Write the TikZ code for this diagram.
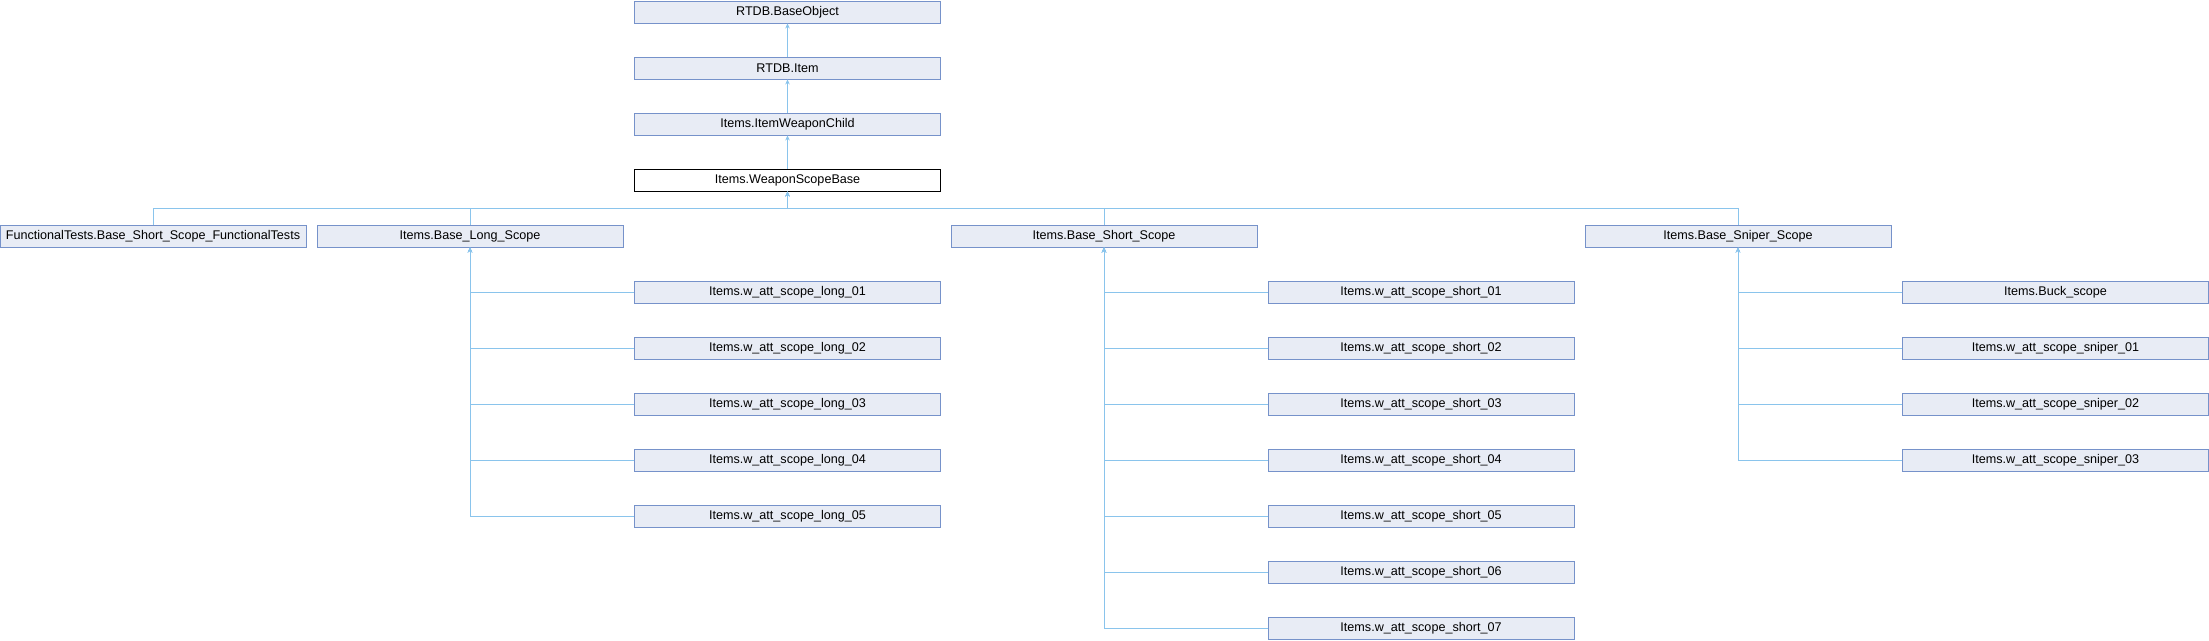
\documentclass[tikz,border=0pt]{standalone}
\usepackage{fontspec}
\setmainfont{Liberation Sans}
\usetikzlibrary{arrows.meta}

\definecolor{boxfill}{RGB}{232,236,245}
\definecolor{boxline}{RGB}{118,146,202}
\definecolor{edgeblue}{RGB}{138,196,236}

\begin{document}
\begin{tikzpicture}[x=1pt, y=1pt]
    \tikzstyle{class box}=[
        draw = boxline,
        line width = 0.9pt,
        fill = boxfill,
        minimum width = 306pt,
        minimum height = 22pt,
        inner sep = 0pt,
        font = \fontsize{12.6}{14}\selectfont
    ]
    \tikzstyle{main box}=[
        class box,
        draw = black,
        fill = white
    ]
    \tikzstyle{edge}=[
        draw = edgeblue,
        line width = 0.9pt,
        -{Stealth[length=5pt, width=4.5pt]}
    ]

    \useasboundingbox (0,0) rectangle (2209,-640);

    % ancestors
    \node[class box] (rtdbbase) at (787.5, -12)  {RTDB.BaseObject};
    \node[class box] (rtdbitem) at (787.5, -68)  {RTDB.Item};
    \node[class box] (wpnchild) at (787.5, -124) {Items.ItemWeaponChild};
    \node[main box]  (scopebase) at (787.5, -180) {Items.WeaponScopeBase};

    % direct children
    \node[class box] (functest) at (153, -236)  {FunctionalTests.Base\_Short\_Scope\_FunctionalTests};
    \node[class box] (longsc)   at (470, -236)  {Items.Base\_Long\_Scope};
    \node[class box] (shortsc)  at (1104, -236) {Items.Base\_Short\_Scope};
    \node[class box] (snipersc) at (1738, -236) {Items.Base\_Sniper\_Scope};

    % long scopes
    \node[class box] (long1) at (787.5, -292) {Items.w\_att\_scope\_long\_01};
    \node[class box] (long2) at (787.5, -348) {Items.w\_att\_scope\_long\_02};
    \node[class box] (long3) at (787.5, -404) {Items.w\_att\_scope\_long\_03};
    \node[class box] (long4) at (787.5, -460) {Items.w\_att\_scope\_long\_04};
    \node[class box] (long5) at (787.5, -516) {Items.w\_att\_scope\_long\_05};

    % short scopes
    \node[class box] (short1) at (1421, -292) {Items.w\_att\_scope\_short\_01};
    \node[class box] (short2) at (1421, -348) {Items.w\_att\_scope\_short\_02};
    \node[class box] (short3) at (1421, -404) {Items.w\_att\_scope\_short\_03};
    \node[class box] (short4) at (1421, -460) {Items.w\_att\_scope\_short\_04};
    \node[class box] (short5) at (1421, -516) {Items.w\_att\_scope\_short\_05};
    \node[class box] (short6) at (1421, -572) {Items.w\_att\_scope\_short\_06};
    \node[class box] (short7) at (1421, -628) {Items.w\_att\_scope\_short\_07};

    % sniper scopes
    \node[class box] (buck)    at (2055.5, -292) {Items.Buck\_scope};
    \node[class box] (sniper1) at (2055.5, -348) {Items.w\_att\_scope\_sniper\_01};
    \node[class box] (sniper2) at (2055.5, -404) {Items.w\_att\_scope\_sniper\_02};
    \node[class box] (sniper3) at (2055.5, -460) {Items.w\_att\_scope\_sniper\_03};

    \coordinate (bus) at (0, -208);

    \draw[edge] (rtdbitem) -- (rtdbbase);
    \draw[edge] (wpnchild) -- (rtdbitem);
    \draw[edge] (scopebase) -- (wpnchild);

    \draw[edge] (functest.north) |- (bus -| scopebase.south) -- (scopebase.south);
    \draw[edge] (longsc.north)   |- (bus -| scopebase.south) -- (scopebase.south);
    \draw[edge] (shortsc.north)  |- (bus -| scopebase.south) -- (scopebase.south);
    \draw[edge] (snipersc.north) |- (bus -| scopebase.south) -- (scopebase.south);

    \draw[edge] (long1.west) -| (longsc.south);
    \draw[edge] (long2.west) -| (longsc.south);
    \draw[edge] (long3.west) -| (longsc.south);
    \draw[edge] (long4.west) -| (longsc.south);
    \draw[edge] (long5.west) -| (longsc.south);

    \draw[edge] (short1.west) -| (shortsc.south);
    \draw[edge] (short2.west) -| (shortsc.south);
    \draw[edge] (short3.west) -| (shortsc.south);
    \draw[edge] (short4.west) -| (shortsc.south);
    \draw[edge] (short5.west) -| (shortsc.south);
    \draw[edge] (short6.west) -| (shortsc.south);
    \draw[edge] (short7.west) -| (shortsc.south);

    \draw[edge] (buck.west)    -| (snipersc.south);
    \draw[edge] (sniper1.west) -| (snipersc.south);
    \draw[edge] (sniper2.west) -| (snipersc.south);
    \draw[edge] (sniper3.west) -| (snipersc.south);

\end{tikzpicture}
\end{document}
